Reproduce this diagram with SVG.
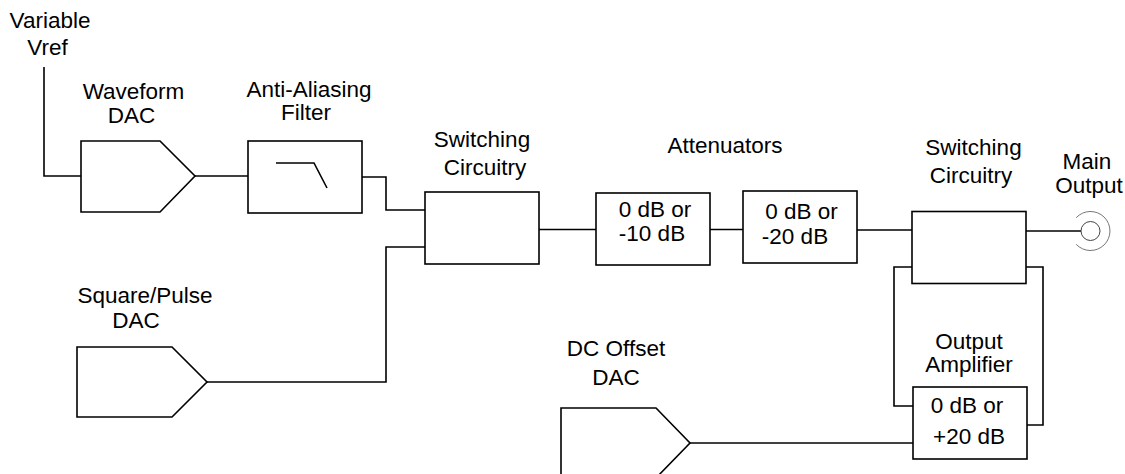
<svg xmlns="http://www.w3.org/2000/svg" width="1125" height="474" viewBox="0 0 1125 474">
<style>
  .blk { fill: #ffffff; stroke: #000000; stroke-width: 1.6; }
  .wire { fill: none; stroke: #000000; stroke-width: 1.6; }
  .lbl { font-family: "Liberation Sans", Arial, Helvetica, sans-serif; font-size: 22.5px; fill: #000000; text-anchor: middle; }
</style>
<rect x="0" y="0" width="1125" height="474" fill="#ffffff"/>

<g id="connectors">
  <path class="wire" d="M44,67 V176 H81"/>
  <path class="wire" d="M195,176 H248"/>
  <path class="wire" d="M362,177 H386 V210 H425"/>
  <path class="wire" d="M207,382 H386 V247 H425"/>
  <path class="wire" d="M539,229.5 H596"/>
  <path class="wire" d="M710,229.5 H743"/>
  <path class="wire" d="M857,230 H912"/>
  <path class="wire" d="M1026,231 H1081"/>
  <path class="wire" d="M912,267 H894 V406 H913"/>
  <path class="wire" d="M1026,267 H1043 V425 H1027"/>
  <path class="wire" d="M690,443 H913"/>
</g>

<g id="vref">
  <text class="lbl" x="50" y="28">Variable</text>
  <text class="lbl" x="47.5" y="55">Vref</text>
</g>

<g id="waveform-dac">
  <polygon class="blk" points="81,141 160,141 195,176 160,212 81,212"/>
  <text class="lbl" x="133.5" y="99">Waveform</text>
  <text class="lbl" x="131.5" y="123">DAC</text>
</g>

<g id="anti-aliasing-filter">
  <rect class="blk" x="248" y="141" width="114" height="72"/>
  <path class="wire" d="M276,163 H314 L327,188"/>
  <text class="lbl" x="309" y="97">Anti-Aliasing</text>
  <text class="lbl" x="306" y="120">Filter</text>
</g>

<g id="switching-1">
  <rect class="blk" x="425" y="192" width="114" height="72"/>
  <text class="lbl" x="482" y="147">Switching</text>
  <text class="lbl" x="485" y="175">Circuitry</text>
</g>

<g id="attenuators-label">
  <text class="lbl" x="725" y="152.5">Attenuators</text>
</g>

<g id="attenuator-10">
  <rect class="blk" x="596" y="193" width="114" height="72"/>
  <text class="lbl" x="655" y="217">0 dB or</text>
  <text class="lbl" x="652" y="241">-10 dB</text>
</g>

<g id="attenuator-20">
  <rect class="blk" x="743" y="191" width="114" height="72"/>
  <text class="lbl" x="801.5" y="219">0 dB or</text>
  <text class="lbl" x="795" y="244">-20 dB</text>
</g>

<g id="switching-2">
  <rect class="blk" x="912" y="211.5" width="114" height="72"/>
  <text class="lbl" x="973.5" y="155">Switching</text>
  <text class="lbl" x="971" y="183">Circuitry</text>
</g>

<g id="main-output">
  <circle cx="1090.5" cy="231" r="9.5" fill="#ffffff" stroke="#444444" stroke-width="1"/>
  <path d="M1076.2,217.7 A19.5,19.5 0 1 1 1076.2,244.3" fill="none" stroke="#777777" stroke-width="1"/>
  <text class="lbl" x="1087" y="169">Main</text>
  <text class="lbl" x="1089" y="193">Output</text>
</g>

<g id="square-pulse-dac">
  <polygon class="blk" points="77,347 172,347 207,382 172,417 77,417"/>
  <text class="lbl" x="145" y="303">Square/Pulse</text>
  <text class="lbl" x="136" y="328">DAC</text>
</g>

<g id="dc-offset-dac">
  <polygon class="blk" points="561,408 656,408 690,443 656,478 561,478"/>
  <text class="lbl" x="616" y="356">DC Offset</text>
  <text class="lbl" x="616" y="385">DAC</text>
</g>

<g id="output-amplifier">
  <rect class="blk" x="913" y="387" width="114" height="72"/>
  <text class="lbl" x="969" y="349">Output</text>
  <text class="lbl" x="969" y="372">Amplifier</text>
  <text class="lbl" x="967" y="413">0 dB or</text>
  <text class="lbl" x="969" y="444">+20 dB</text>
</g>
</svg>
